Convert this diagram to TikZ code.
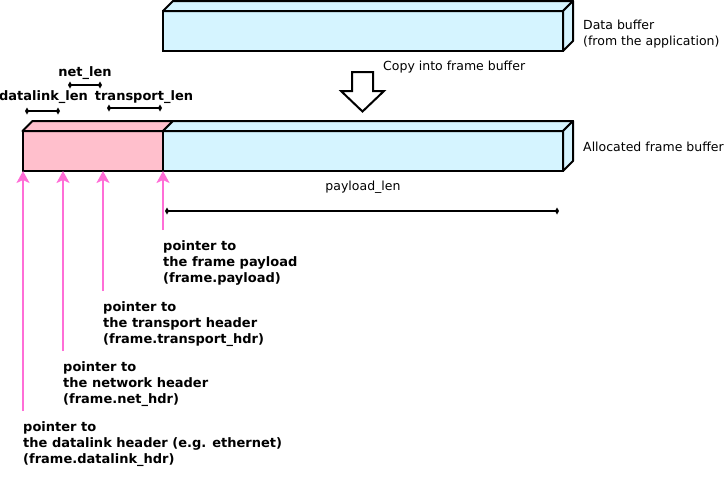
\documentclass[tikz,border=0pt]{standalone}
\usepackage{fontspec}
\setmainfont{DejaVu Sans}
\usetikzlibrary{arrows.meta}
\definecolor{bufblue}{RGB}{213,244,255}
\definecolor{hdrpink}{RGB}{255,191,204}
\definecolor{ptrpink}{RGB}{255,110,215}

\begin{document}
\begin{tikzpicture}[x=1pt, y=-1pt,
    font=\fontsize{12.5}{16}\selectfont,
    buf/.style={draw, line width=2pt, inner sep=0pt, outer sep=0pt, minimum height=40pt, anchor=north west},
    face/.style={draw, line width=2pt, line join=round},
    dim/.style={line width=2pt, {Diamond[length=4pt,width=7pt]}-{Diamond[length=4pt,width=7pt]}},
    ptr/.style={draw=ptrpink, line width=2pt, -{Stealth[length=12pt,width=13pt,inset=3pt,fill=ptrpink]}},
    ptrlabel/.style={anchor=north west, align=left, inner sep=0pt, font=\fontsize{13}{16}\selectfont\bfseries},
    lenlabel/.style={inner sep=0pt, font=\fontsize{13}{16}\selectfont\bfseries},
    note/.style={anchor=west, align=left, inner sep=0pt}]
    \useasboundingbox (0,0) rectangle (726,482);

    % data buffer
    \node[buf, fill=bufblue, minimum width=400pt] (data) at (163,11) {};
    \filldraw[face, fill=bufblue] (data.north west) -- ++(10,-10) -- ++(400,0) -- (data.north east) -- cycle;
    \filldraw[face, fill=bufblue] (data.north east) -- ++(10,-10) -- ++(0,40) -- (data.south east) -- cycle;
    \node[note] (datalbl) at (583,34.5) {Data buffer\\(from the application)};

    % copy arrow
    \draw[line width=2pt] (352,72) -- (373,72) -- (373,91) -- (384,91) -- (362.5,111.5) -- (341,91) -- (352,91) -- cycle;
    \node[note] (copylbl) at (383,66.7) {Copy into frame buffer};

    % frame buffer
    \node[buf, fill=hdrpink, minimum width=140.5pt] (hdr) at (22.5,131) {};
    \node[buf, fill=bufblue, minimum width=400pt] (pay) at (hdr.north east) {};
    \filldraw[face, fill=hdrpink] (hdr.north west) -- ++(10,-10) -- ++(140.5,0) -- (hdr.north east) -- cycle;
    \filldraw[face, fill=bufblue] (pay.north west) -- ++(10,-10) -- ++(400,0) -- (pay.north east) -- cycle;
    \filldraw[face, fill=bufblue] (pay.north east) -- ++(10,-10) -- ++(0,40) -- (pay.south east) -- cycle;
    \node[note] (framelbl) at (583,146.7) {Allocated frame buffer};

    % lengths
    \coordinate (dlA) at (25,111);
    \coordinate (dlB) at (60,111);
    \coordinate (netA) at (68,85);
    \coordinate (netB) at (102,85);
    \coordinate (trA) at (107,108);
    \coordinate (trB) at (162,108);
    \coordinate (payA) at (165,211);
    \coordinate (payB) at (559,211);
    \draw[dim] (dlA) -- (dlB);
    \draw[dim] (netA) -- (netB);
    \draw[dim] (trA) -- (trB);
    \draw[dim] (payA) -- (payB);
    \node[lenlabel] (dllen) at (43.5,97) {datalink\_len};
    \node[lenlabel] (netlen) at (85,73) {net\_len};
    \node[lenlabel] (trlen) at (144,97) {transport\_len};
    \node[inner sep=0pt] (paylen) at (363,187) {payload\_len};

    % pointers
    \node[ptrlabel] (paylbl) at (163,240) {pointer to\\the frame payload\\(frame.payload)};
    \node[ptrlabel] (trlbl) at (103,301) {pointer to\\the transport header\\(frame.transport\_hdr)};
    \node[ptrlabel] (netlbl) at (63,361) {pointer to\\the network header\\(frame.net\_hdr)};
    \node[ptrlabel] (dllbl) at (23,421) {pointer to\\the datalink header (e.g. ethernet)\\(frame.datalink\_hdr)};
    \draw[ptr] ([yshift=10pt]paylbl.north west) -- (pay.south west);
    \draw[ptr] ([yshift=10pt]trlbl.north west) -- (trlbl.north west |- hdr.south);
    \draw[ptr] ([yshift=10pt]netlbl.north west) -- (netlbl.north west |- hdr.south);
    \draw[ptr] ([yshift=10pt]dllbl.north west) -- (dllbl.north west |- hdr.south);
\end{tikzpicture}
\end{document}
